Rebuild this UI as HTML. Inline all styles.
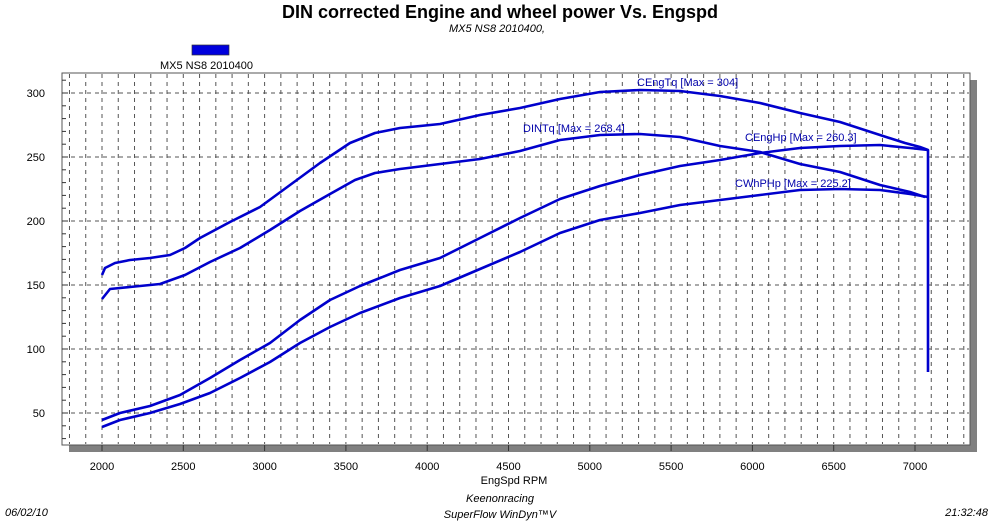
<!DOCTYPE html>
<html><head><meta charset="utf-8"><style>
body{margin:0;background:#fff;width:1000px;height:521px;overflow:hidden}
svg{display:block;font-family:"Liberation Sans",sans-serif}
</style></head><body>
<svg id="s" width="1000" height="521" viewBox="0 0 1000 521">
<text x="500" y="18" text-anchor="middle" font-size="18" font-weight="bold">DIN corrected Engine and wheel power Vs. Engspd</text>
<text x="497" y="32" text-anchor="middle" font-size="11" font-style="italic">MX5 NS8 2010400,</text>
<rect x="192" y="45" width="37" height="10" fill="#0000dd" stroke="#333" stroke-width="0.7"/>
<text x="160" y="69" font-size="11">MX5 NS8 2010400</text>
<rect x="69" y="80" width="908" height="372" fill="#808080"/>
<rect x="62" y="73" width="908" height="372" fill="#fff" stroke="#555" stroke-width="1"/>
<g id="grid" stroke="#555" stroke-width="1" stroke-dasharray="4,4" fill="none"></g>
<g id="ticks" stroke="#333" stroke-width="1"></g>
<g id="labels" font-size="11" text-anchor="middle"></g>
<g fill="none" stroke="#0000cc" stroke-width="2.6" stroke-linejoin="round">
<polyline points="102,275 105,268 115,263 130,260 150,258 170,255 185,248 200,238 230,222 260,207 290,185 320,163 350,143 375,133 400,128 440,124 480,115 520,108 560,99 600,92 640,90 680,91 720,96 760,103 800,113 840,122 880,135 905,143 920,147 928,150 928,372"/>
<polyline points="102,299 110,289 130,287 160,284 185,275 210,262 240,248 270,230 300,211 330,194 355,180 375,173 400,169 440,164 480,159 520,151 560,140 600,135 640,134 680,137 720,146 760,152 800,164 840,172 880,185 910,192 925,197"/>
<polyline points="102,420 120,413 150,406 180,395 210,378 240,360 270,343 300,320 330,300 360,286 400,270 440,258 480,238 520,218 560,199 600,186 640,175 680,166 720,160 760,153 800,148 840,146 880,145 910,148 928,150"/>
<polyline points="102,427 120,420 150,413 180,404 210,393 240,378 270,362 300,343 330,327 360,313 400,298 440,286 480,269 520,252 560,233 600,220 640,213 680,205 720,200 760,195 800,190 840,189 880,190 910,194 928,197"/>
</g>
<g font-size="11" fill="#0000aa">
<text x="637" y="86">CEngTq [Max = 304]</text>
<text x="523" y="132">DINTq [Max = 268.4]</text>
<text x="745" y="141">CEngHp [Max = 260.3]</text>
<text x="735" y="187">CWhPHp [Max = 225.2]</text>
</g>
<text x="514" y="484" font-size="11" text-anchor="middle">EngSpd  RPM</text>
<text x="5" y="516" font-size="11" font-style="italic">06/02/10</text>
<text x="500" y="502" font-size="11" font-style="italic" text-anchor="middle">Keenonracing</text>
<text x="500" y="518" font-size="11" font-style="italic" text-anchor="middle">SuperFlow WinDyn™V</text>
<text x="988" y="516" font-size="11" font-style="italic" text-anchor="end">21:32:48</text>
</svg>
<script>
var ns="http://www.w3.org/2000/svg";
function el(p,t,a,txt){var e=document.createElementNS(ns,t);for(var k in a)e.setAttribute(k,a[k]);if(txt)e.textContent=txt;document.getElementById(p).appendChild(e);}
function X(r){return 102+(r-2000)*0.1626;}
function Y(v){return 477-v*1.28;}
for(var r=1800;r<=7300;r+=100){var x=X(r);el("grid","line",{x1:x,y1:74,x2:x,y2:444});}
for(var v=50;v<=300;v+=50){var y=Y(v);el("grid","line",{x1:63,y1:y,x2:969,y2:y});
 el("labels","text",{x:45,y:y+4,"text-anchor":"end"},String(v));}
for(var v=30;v<=310;v+=10){var y=Y(v);if(y>74&&y<444)el("ticks","line",{x1:62,y1:y,x2:v%50?66:68,y2:y});}
for(var r=2000;r<=7000;r+=500){var x=X(r);el("ticks","line",{x1:x,y1:445,x2:x,y2:451});
 el("labels","text",{x:x,y:470},String(r));}
</script>
</body></html>
